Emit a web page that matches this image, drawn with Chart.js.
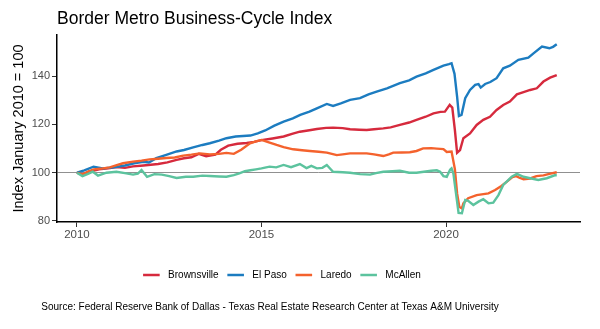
<!DOCTYPE html>
<html>
<head>
<meta charset="utf-8">
<script src="https://cdn.jsdelivr.net/npm/chart.js@4.4.1/dist/chart.umd.min.js"></script>
<style>
  html, body { margin: 0; padding: 0; background: #fff; }
</style>
</head>
<body>
<canvas id="cycleChart" width="600" height="329"></canvas>
<script>
// Chart values (decimal year, index value)
const seriesNames = ['Brownsville', 'El Paso', 'Laredo', 'McAllen'];
const seriesColors = ['#d62a3d', '#1c7cc0', '#f4622d', '#5cc39e'];
const yearTicks = [2010, 2015, 2020];
const indexTicks = [80, 100, 120, 140];

const brownsville = [
  [2010.0,100],[2010.15,99.2],[2010.35,100.5],[2010.6,101.4],[2010.85,101.8],[2011.07,102.3],
  [2011.3,102],[2011.52,102.6],[2011.8,103],[2012.0,103.3],[2012.2,103.6],[2012.45,104.3],
  [2012.7,105.3],[2012.9,106],[2013.1,106.4],[2013.3,107.8],[2013.5,106.8],[2013.75,107.5],
  [2013.9,109.5],[2014.1,111.2],[2014.35,112],[2014.6,112.3],[2014.8,112.8],[2015.0,113.5],
  [2015.3,114.2],[2015.6,115],[2015.85,116.2],[2016.04,117],[2016.3,117.6],[2016.5,118.1],
  [2016.75,118.6],[2016.94,118.7],[2017.2,118.5],[2017.4,118],[2017.65,117.8],[2017.85,117.7],
  [2018.05,118],[2018.3,118.4],[2018.5,118.8],[2018.75,119.8],[2019.0,120.8],[2019.2,121.9],
  [2019.45,123.2],[2019.66,124.6],[2019.85,125.2],[2019.97,125.3],[2020.1,128.1],[2020.17,127],
  [2020.24,117.7],[2020.3,108.3],[2020.38,109.4],[2020.47,114.3],[2020.65,116.3],[2020.83,119.8],
  [2021.01,121.9],[2021.19,123.2],[2021.37,126],[2021.55,128.1],[2021.73,129.5],[2021.92,132.5],
  [2022.1,133.4],[2022.28,134.3],[2022.46,135],[2022.64,137.8],[2022.82,139.4],[2023.0,140.5]
];

const elPaso = [
  [2010.0,100],[2010.2,101],[2010.45,102.5],[2010.7,101.8],[2011.0,102.2],[2011.3,103],
  [2011.55,103.9],[2011.8,104.5],[2011.95,104.2],[2012.15,106],[2012.4,107.3],[2012.7,108.8],
  [2012.9,109.4],[2013.15,110.5],[2013.4,111.5],[2013.6,112.2],[2013.85,113.3],[2014.05,114.3],
  [2014.3,115],[2014.5,115.2],[2014.7,115.4],[2014.9,116.3],[2015.1,117.5],[2015.35,119.5],
  [2015.6,121.2],[2015.85,122.5],[2016.05,124],[2016.3,125.3],[2016.5,126.7],[2016.77,128.5],
  [2016.94,127.7],[2017.15,128.7],[2017.4,130.2],[2017.67,130.9],[2017.9,132.5],[2018.12,133.6],
  [2018.4,135],[2018.75,137.1],[2019.0,138.3],[2019.2,139.8],[2019.45,141.2],[2019.66,142.6],
  [2019.93,144.4],[2020.08,145],[2020.15,145.4],[2020.23,141],[2020.3,131.5],[2020.35,123.5],
  [2020.42,124],[2020.52,130.9],[2020.65,134.3],[2020.79,136.4],[2020.88,136.7],[2020.94,135.3],
  [2021.06,136.8],[2021.2,137.6],[2021.37,139.2],[2021.55,143.3],[2021.73,144.4],[2021.96,146.8],
  [2022.23,147.7],[2022.37,149.5],[2022.6,152.3],[2022.8,151.6],[2022.9,152.2],[2023.0,153.3]
];

const laredo = [
  [2010.0,100],[2010.15,99.3],[2010.3,100.5],[2010.45,101.4],[2010.7,101.8],[2010.89,102.2],
  [2011.1,103.2],[2011.25,103.9],[2011.52,104.6],[2011.75,105],[2011.97,105.5],[2012.2,105.8],
  [2012.42,106.1],[2012.65,106.3],[2012.88,107.1],[2013.1,107.5],[2013.33,108],[2013.6,107.6],
  [2013.85,107.8],[2014.05,108.2],[2014.25,107.8],[2014.45,109.5],[2014.69,112.2],[2014.85,113],
  [2015.0,113.6],[2015.2,112.6],[2015.41,111.5],[2015.6,110.6],[2015.86,109.7],[2016.1,109.3],
  [2016.31,109],[2016.55,108.7],[2016.77,108.3],[2017.04,107.3],[2017.2,107.6],[2017.4,108],
  [2017.65,108],[2017.85,108],[2018.05,107.6],[2018.3,106.9],[2018.45,107.6],[2018.57,108.3],
  [2018.8,108.4],[2019.02,108.5],[2019.2,109],[2019.38,110.1],[2019.6,110.2],[2019.75,110],
  [2019.93,109.8],[2020.02,108.6],[2020.15,108.8],[2020.24,101.5],[2020.3,91.4],[2020.36,85.9],
  [2020.43,85.2],[2020.47,87.3],[2020.6,89.4],[2020.83,90.7],[2021.15,91.4],[2021.33,92.8],
  [2021.5,94.5],[2021.65,96.3],[2021.8,98.2],[2021.9,98.6],[2022.0,97.8],[2022.1,97.3],
  [2022.28,97.6],[2022.45,98.6],[2022.64,98.9],[2022.8,99.5],[2023.0,100.2]
];

const mcAllen = [
  [2010.0,100],[2010.15,98.6],[2010.3,99.5],[2010.43,100.4],[2010.57,98.8],[2010.8,100],
  [2011.07,100.4],[2011.3,99.8],[2011.52,99.2],[2011.65,99.6],[2011.75,101.1],[2011.9,98.3],
  [2012.1,99.4],[2012.3,99.2],[2012.5,98.6],[2012.7,97.8],[2012.95,98.3],[2013.15,98.3],
  [2013.4,98.8],[2013.6,98.6],[2013.85,98.4],[2014.05,98.3],[2014.25,99],[2014.4,99.7],
  [2014.55,100.6],[2014.7,101],[2014.85,101.4],[2015.0,101.8],[2015.22,102.5],[2015.4,102.2],
  [2015.6,103.2],[2015.8,102.3],[2016.04,103.6],[2016.22,101.9],[2016.35,102.8],[2016.5,101.8],
  [2016.65,102],[2016.77,103.2],[2016.94,100.4],[2017.2,100.2],[2017.4,100],[2017.67,99.4],
  [2017.94,99.2],[2018.1,99.8],[2018.3,100.4],[2018.55,100.6],[2018.75,100.8],[2019.0,100],
  [2019.2,100],[2019.4,100.4],[2019.6,100.8],[2019.75,101],[2019.84,100.4],[2019.93,98.6],
  [2020.02,98.3],[2020.11,101.2],[2020.15,101.8],[2020.2,99.6],[2020.27,91.4],[2020.34,83.3],
  [2020.43,83.2],[2020.52,88.7],[2020.6,88.3],[2020.74,86.6],[2020.88,88],[2021.01,89],
  [2021.15,87.3],[2021.28,87.6],[2021.42,90.7],[2021.55,94.9],[2021.78,98.3],[2021.92,99.5],
  [2022.1,98.3],[2022.28,97.7],[2022.5,97],[2022.73,97.7],[2022.96,99],[2023.0,98.8]
];

const titleText = 'Border Metro Business-Cycle Index';
const yTitleText = 'Index January 2010 = 100';
const sourceText = 'Source: Federal Reserve Bank of Dallas - Texas Real Estate Research Center at Texas A&M University';

const fam = '"Liberation Sans", Arial, sans-serif';

// legend row and source line under the plot
const footerPlugin = {
  id: 'footer',
  afterDraw(chart) {
    const ctx = chart.ctx;
    ctx.save();
    ctx.font = '10px ' + fam;
    ctx.textBaseline = 'middle';
    ctx.textAlign = 'left';
    const lineLen = 16.6, afterLine = 8.4, afterText = 8.7;
    const items = chart.data.datasets.map(ds => ({
      label: ds.label, color: ds.borderColor, w: ctx.measureText(ds.label).width
    }));
    let total = 0;
    items.forEach((it, i) => { total += lineLen + afterLine + it.w + (i ? afterText : 0); });
    let x = 282 - total / 2;
    const y = 275;
    items.forEach(it => {
      ctx.strokeStyle = it.color;
      ctx.lineWidth = 2.5;
      ctx.beginPath();
      ctx.moveTo(x, y);
      ctx.lineTo(x + lineLen, y);
      ctx.stroke();
      x += lineLen + afterLine;
      ctx.fillStyle = '#000';
      ctx.fillText(it.label, x, y);
      x += it.w + afterText;
    });
    ctx.textAlign = 'center';
    ctx.fillText(sourceText, 270, 307);
    ctx.restore();
  }
};

const allSeries = [brownsville, elPaso, laredo, mcAllen];

new Chart(document.getElementById('cycleChart').getContext('2d'), {
  type: 'line',
  data: {
    datasets: allSeries.map((s, i) => ({
      label: seriesNames[i],
      data: s.map(([x, y]) => ({ x, y })),
      borderColor: seriesColors[i],
      backgroundColor: seriesColors[i],
      borderWidth: 2.4,
      pointRadius: 0,
      tension: 0,
      fill: false,
      order: allSeries.length - i
    }))
  },
  options: {
    responsive: false,
    animation: false,
    layout: { padding: { top: 0, right: 20, bottom: 87, left: 0 } },
    plugins: {
      legend: { display: false },
      tooltip: { enabled: false },
      title: {
        display: true,
        text: titleText,
        align: 'start',
        fullSize: false,
        color: '#000',
        font: { family: fam, size: 17.5, weight: 'normal' },
        padding: { top: 8.5, bottom: 5.5 }
      }
    },
    scales: {
      x: {
        type: 'linear',
        min: 2009.46,
        max: 2023.63,
        afterBuildTicks: s => { s.ticks = yearTicks.map(v => ({ value: v })); },
        afterFit: s => { s.height = 20; },
        grid: { drawOnChartArea: false, tickLength: 5, tickColor: '#333', tickWidth: 1 },
        border: { color: '#000', width: 1.5 },
        ticks: {
          color: '#4d4d4d', padding: 1, maxRotation: 0,
          font: { family: fam, size: 11.5 },
          callback: v => String(v)
        }
      },
      y: {
        min: 79.55,
        max: 157.1,
        afterBuildTicks: s => { s.ticks = indexTicks.map(v => ({ value: v })); },
        afterFit: s => { s.width = 57; },
        grid: {
          color: c => (c.tick && c.tick.value === 100) ? '#909090' : 'rgba(0,0,0,0)',
          lineWidth: 1, tickLength: 5, tickColor: '#333', tickWidth: 1
        },
        border: { color: '#000', width: 1.5 },
        ticks: { color: '#4d4d4d', padding: 2, font: { family: fam, size: 11 } },
        title: {
          display: true, text: yTitleText, color: '#000',
          font: { family: fam, size: 14.5 },
          padding: { top: 10.5, bottom: 0 }
        }
      }
    }
  },
  plugins: [footerPlugin]
});
</script>
</body>
</html>
